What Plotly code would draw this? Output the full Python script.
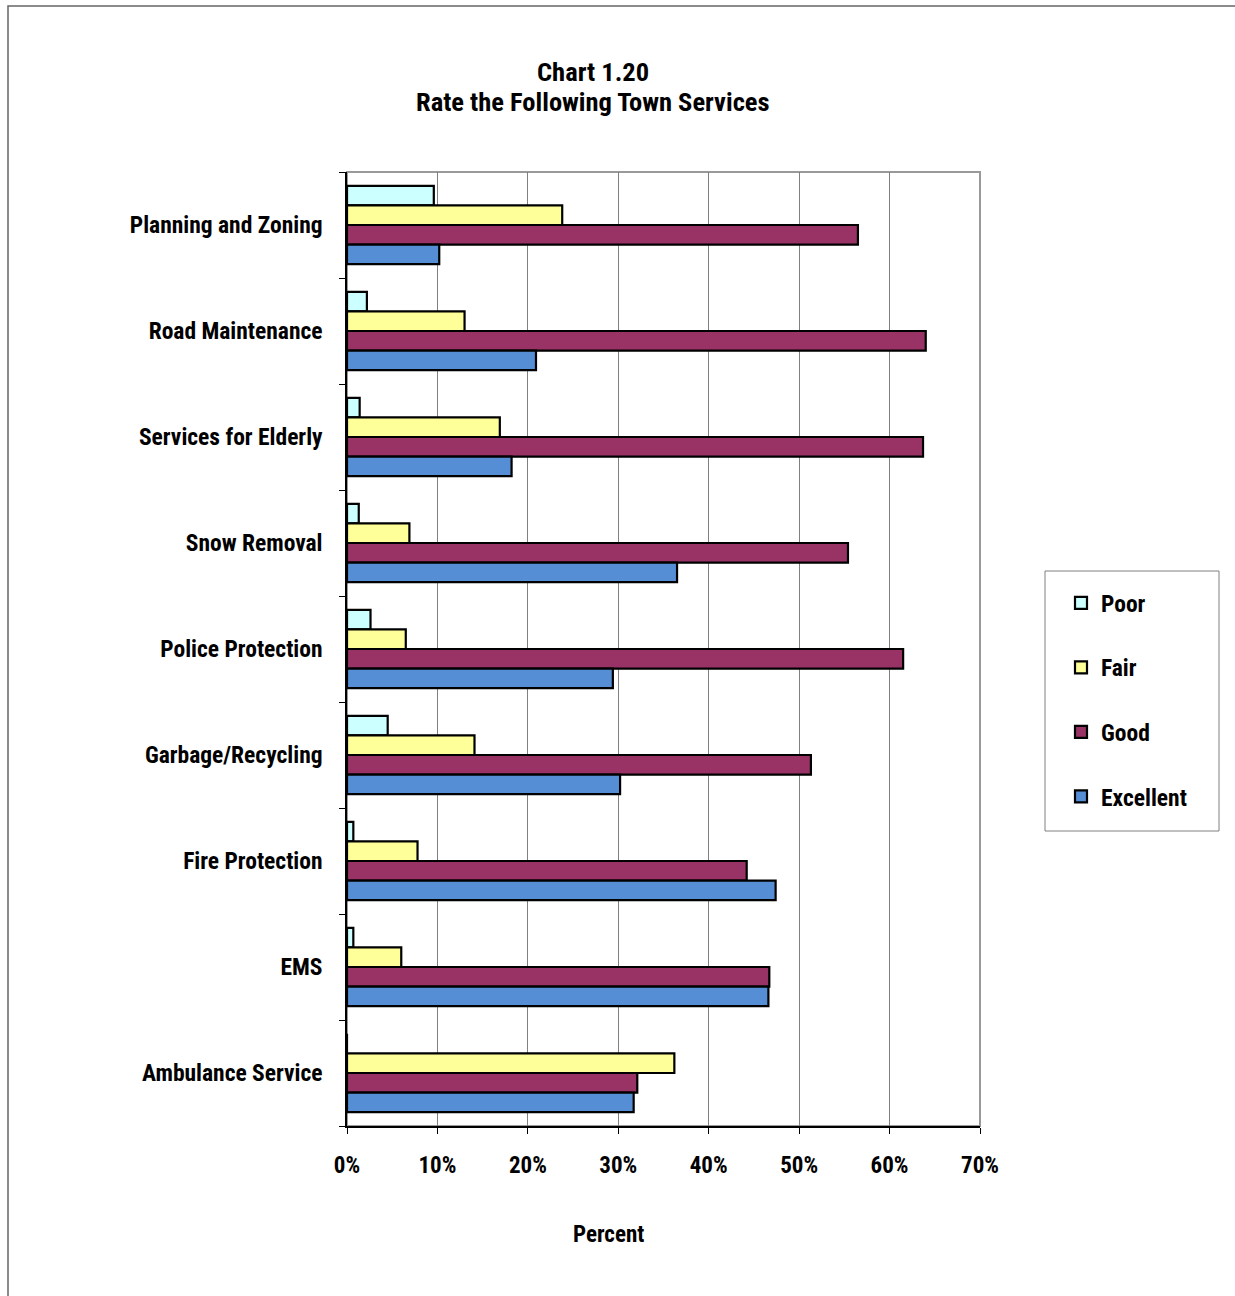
import plotly.graph_objects as go

# Survey results: share of respondents giving each rating, per town service
services = [
    "Planning and Zoning",
    "Road Maintenance",
    "Services for Elderly",
    "Snow Removal",
    "Police Protection",
    "Garbage/Recycling",
    "Fire Protection",
    "EMS",
    "Ambulance Service",
]
poor = [9.6, 2.2, 1.4, 1.3, 2.6, 4.5, 0.7, 0.7, 0.0]
fair = [23.8, 13.0, 16.9, 6.9, 6.5, 14.1, 7.8, 6.0, 36.2]
good = [56.5, 64.0, 63.7, 55.4, 61.5, 51.3, 44.2, 46.7, 32.1]
excellent = [10.2, 20.9, 18.2, 36.5, 29.4, 30.2, 47.4, 46.6, 31.7]

ratings = ["Poor", "Fair", "Good", "Excellent"]
colors = ["#CCFFFF", "#FFFF99", "#993366", "#558ED5"]
x_ticks = [0, 10, 20, 30, 40, 50, 60, 70]

FONT = "Liberation Sans Narrow, Arial Narrow, Roboto Condensed, Liberation Sans, Arial, sans-serif"

W, H = 1235, 1296
L, R, T, B = 347, 980, 172, 1126  # plot area in pixels


def px_x(p):
    return (p - L) / (R - L)


def px_y(p):
    return (B - p) / (B - T)


fig = go.Figure()
for i, (name, vals) in enumerate(zip(ratings, [poor, fair, good, excellent])):
    fig.add_trace(
        go.Bar(
            y=services,
            x=vals,
            name=name,
            orientation="h",
            marker=dict(color=colors[i], line=dict(color="#000000", width=2.2)),
            legendgroup=name,
        )
    )

shapes = [
    # outer frame around the whole chart
    dict(type="rect", xref="paper", yref="paper",
         x0=px_x(8), x1=px_x(1245), y0=px_y(1306), y1=px_y(6),
         line=dict(color="#666666", width=1.5), fillcolor="rgba(0,0,0,0)", layer="below"),
    # gray frame of the plotting area
    dict(type="rect", xref="paper", yref="paper", x0=0, x1=1, y0=0, y1=1,
         line=dict(color="#999999", width=2), fillcolor="rgba(0,0,0,0)", layer="below"),
    # legend box
    dict(type="rect", xref="paper", yref="paper",
         x0=px_x(1045), x1=px_x(1219), y0=px_y(831), y1=px_y(571),
         line=dict(color="#808080", width=1), fillcolor="white", layer="below"),
]

annotations = [
    dict(text="<b>Chart 1.20</b>", xref="paper", yref="paper",
         x=px_x(593), y=px_y(72), xanchor="center", yanchor="middle",
         showarrow=False, font=dict(family=FONT, size=26.5, color="#000")),
    dict(text="<b>Rate the Following Town Services</b>", xref="paper", yref="paper",
         x=px_x(593), y=px_y(102), xanchor="center", yanchor="middle",
         showarrow=False, font=dict(family=FONT, size=26.5, color="#000")),
    dict(text="<b>Percent</b>", xref="paper", yref="paper",
         x=px_x(608), y=px_y(1234), xanchor="center", yanchor="middle",
         showarrow=False, font=dict(family=FONT, size=23, color="#000")),
]

fig.update_layout(
    width=W,
    height=H,
    margin=dict(l=L, r=W - R, t=T, b=H - B, pad=0),
    paper_bgcolor="white",
    plot_bgcolor="white",
    barmode="group",
    bargap=0.26,
    bargroupgap=0,
    showlegend=True,
    legend=dict(
        x=px_x(1061), y=px_y(581), xanchor="left", yanchor="top",
        bgcolor="rgba(0,0,0,0)", borderwidth=0,
        traceorder="grouped", tracegroupgap=31,
        font=dict(family=FONT, size=23.5, color="#000", weight="bold"),
        itemwidth=30,
    ),
    shapes=shapes,
    annotations=annotations,
    xaxis=dict(
        range=[0, 70],
        tickvals=x_ticks,
        ticktext=[f"<b>{v}%</b>" for v in x_ticks],
        showgrid=True, gridcolor="#808080", gridwidth=1,
        showline=True, linecolor="#000000", linewidth=1.5,
        ticks="outside", ticklen=6, tickcolor="#000000",
        ticklabelstandoff=12,
        tickfont=dict(family=FONT, size=23, color="#000"),
        zeroline=False,
        fixedrange=True,
    ),
    yaxis=dict(
        categoryorder="array",
        categoryarray=services,
        autorange="reversed",
        tickvals=services,
        ticktext=[f"<b>{s}</b>" for s in services],
        showline=True, linecolor="#000000", linewidth=1.5,
        ticks="outside", ticklen=6, tickcolor="#000000",
        tickson="boundaries",
        ticklabelstandoff=18,
        tickfont=dict(family=FONT, size=23.5, color="#000"),
        showgrid=False,
        fixedrange=True,
    ),
)

fig.write_html("out.html")
